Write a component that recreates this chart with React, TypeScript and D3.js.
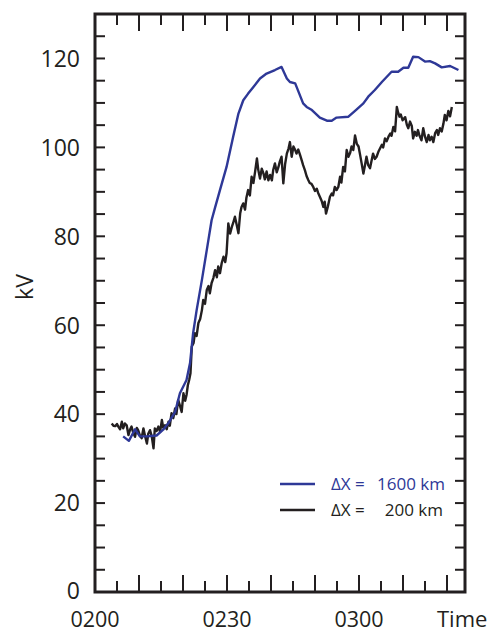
import React from "react";
import * as d3 from "d3";

// Minutes after 0200 UT and cross-polar-cap potential (kV)
const wideTime = [6.4, 7.7, 9.1, 10.2, 11.8, 14.0, 15.5, 16.7, 18.2, 19.3, 20.8, 21.6, 22.3, 23.1, 24.3, 25.4, 26.5, 27.3, 28.4, 29.9, 31.4, 32.6, 33.7, 34.8, 36.0, 37.5, 39.0, 40.9, 42.4, 43.6, 44.3, 45.5, 47.3, 48.1, 49.3, 51.1, 52.7, 53.8, 54.9, 57.6, 59.1, 61.0, 62.1, 63.6, 65.2, 67.4, 68.9, 70.1, 71.2, 72.3, 73.5, 75.0, 76.1, 77.3, 78.8, 80.7, 82.6];
const wideKV = [35.0, 34.0, 36.6, 35.0, 35.0, 35.2, 36.5, 38.0, 40.5, 44.7, 47.7, 51.5, 58.2, 63.4, 70.2, 76.9, 83.6, 86.5, 90.4, 95.6, 102.4, 107.6, 110.6, 112.1, 113.6, 115.5, 116.6, 117.4, 118.1, 115.5, 114.7, 114.4, 109.9, 109.1, 108.4, 106.7, 106.0, 106.0, 106.7, 106.9, 108.2, 109.9, 111.4, 112.9, 114.7, 117.0, 117.0, 117.9, 117.9, 120.4, 120.3, 119.3, 119.4, 118.9, 118.0, 118.3, 117.4];

const narrowTime = [3.8, 4.2, 4.6, 5.0, 5.3, 5.7, 6.1, 6.4, 6.8, 7.2, 7.6, 8.0, 8.3, 8.7, 9.1, 9.5, 9.8, 10.2, 10.6, 11.0, 11.4, 11.8, 12.1, 12.5, 12.9, 13.3, 13.6, 14.0, 14.4, 14.8, 15.2, 15.5, 15.9, 16.3, 16.7, 17.0, 17.4, 17.8, 18.2, 18.5, 18.9, 19.3, 19.7, 20.1, 20.5, 20.8, 21.1, 21.4, 21.7, 22.0, 22.4, 22.7, 23.1, 23.5, 23.9, 24.3, 24.6, 25.0, 25.4, 25.8, 26.1, 26.5, 26.9, 27.3, 27.7, 28.0, 28.4, 28.8, 29.2, 29.6, 29.9, 30.3, 30.7, 31.1, 31.4, 31.8, 32.2, 32.6, 33.0, 33.3, 33.7, 34.1, 34.4, 34.8, 35.2, 35.6, 36.0, 36.4, 36.8, 37.1, 37.5, 37.9, 38.3, 38.6, 39.0, 39.4, 39.8, 40.2, 40.5, 40.9, 41.3, 41.7, 42.0, 42.4, 42.8, 43.2, 43.6, 44.0, 44.3, 44.7, 45.1, 45.5, 45.8, 46.2, 46.6, 47.0, 47.3, 47.7, 48.1, 48.5, 48.8, 49.2, 49.6, 50.0, 50.4, 50.7, 51.1, 51.5, 51.9, 52.2, 52.5, 52.9, 53.4, 53.8, 54.1, 54.5, 54.9, 55.3, 55.7, 56.0, 56.4, 56.8, 57.2, 57.6, 58.0, 58.3, 58.7, 59.1, 59.5, 59.9, 60.2, 60.6, 61.0, 61.4, 61.7, 62.1, 62.5, 62.9, 63.2, 63.6, 64.0, 64.4, 64.8, 65.2, 65.5, 65.9, 66.3, 66.7, 67.1, 67.4, 67.8, 68.2, 68.6, 68.9, 69.2, 69.5, 69.9, 70.5, 70.9, 71.2, 71.6, 72.0, 72.3, 72.7, 73.1, 73.4, 73.7, 74.2, 74.6, 75.0, 75.4, 75.8, 76.1, 76.5, 76.9, 77.3, 77.7, 78.0, 78.4, 78.8, 79.2, 79.5, 79.9, 80.3, 80.7, 81.1, 81.6, 82.0, 82.3, 82.6];
const narrowKV = [37.9, 37.4, 37.3, 37.8, 37.2, 36.6, 38.3, 36.8, 37.9, 37.5, 35.3, 36.6, 37.2, 35.8, 34.9, 36.9, 36.4, 35.2, 34.6, 36.8, 35.0, 33.4, 35.6, 36.4, 35.0, 32.3, 36.8, 36.2, 37.2, 36.0, 38.7, 37.0, 37.5, 36.6, 38.3, 37.4, 40.2, 39.1, 41.3, 40.0, 43.2, 41.9, 40.5, 44.7, 43.0, 44.3, 46.5, 47.7, 49.2, 55.2, 56.0, 58.2, 57.6, 60.5, 61.4, 63.4, 65.7, 64.8, 67.9, 68.8, 67.2, 69.5, 70.6, 72.4, 70.8, 73.2, 71.7, 74.0, 75.4, 74.2, 76.2, 82.9, 80.6, 82.1, 83.0, 84.4, 82.6, 80.7, 85.2, 86.6, 87.4, 86.0, 88.6, 90.4, 89.2, 93.4, 92.0, 94.6, 97.5, 95.0, 93.0, 95.2, 94.1, 92.8, 94.6, 92.6, 93.8, 92.6, 94.9, 96.4, 94.4, 95.6, 96.8, 97.9, 91.9, 96.2, 98.6, 99.8, 101.2, 97.9, 100.2, 99.4, 98.6, 99.5, 98.3, 97.0, 96.0, 94.9, 93.5, 92.6, 92.0, 91.8, 91.1, 90.2, 90.7, 89.8, 88.9, 88.0, 86.6, 87.8, 85.1, 86.6, 88.9, 89.6, 89.2, 91.1, 90.4, 91.1, 93.4, 92.1, 95.6, 94.6, 99.4, 97.9, 98.8, 100.2, 99.4, 102.7, 100.8, 100.2, 98.6, 96.4, 94.1, 96.2, 97.9, 96.0, 95.3, 97.2, 98.6, 97.4, 97.9, 99.0, 99.8, 100.6, 100.0, 102.0, 101.4, 102.4, 103.1, 102.6, 104.6, 103.6, 109.1, 107.8, 106.9, 107.4, 106.1, 106.8, 105.0, 104.3, 105.8, 104.8, 102.0, 103.5, 102.6, 103.9, 102.8, 101.6, 104.3, 102.4, 101.2, 102.8, 101.6, 102.4, 101.2, 103.2, 103.9, 102.8, 104.3, 103.6, 105.4, 107.3, 106.1, 108.2, 107.0, 109.1];

const yTicks = d3.range(0, 131, 5);
const yLabels = [0, 20, 40, 60, 80, 100, 120];
const xTicks = d3.range(5, 81, 5);
const xLabels = [
  { t: 0, label: "0200" },
  { t: 30, label: "0230" },
  { t: 60, label: "0300" },
];

const legendItems = [
  { name: "\u0394X =", value: "1600 km", color: "#2e3897", end: 445 },
  { name: "\u0394X =", value: "200 km", color: "#231f20", end: 443 },
];

const W = 492;
const H = 633;
const left = 95;
const right = 465;
const top = 14;
const bottom = 592;
const ink = "#231f20";
const font = "'Open Sans', 'Noto Sans', sans-serif";

export default function App() {
  const x = d3.scaleLinear().domain([0, 370 / 4.4]).range([left, right]);
  const y = d3.scaleLinear().domain([0, 130]).range([bottom, top]);

  const line = d3
    .line<[number, number]>()
    .x((d) => x(d[0]))
    .y((d) => y(d[1]))
    .curve(d3.curveLinear);

  const wide = line(wideTime.map((t, i) => [t, wideKV[i]] as [number, number]));
  const narrow = line(narrowTime.map((t, i) => [t, narrowKV[i]] as [number, number]));

  return (
    <div style={{ position: "absolute", left: 0, top: 0 }}>
      <svg width={W} height={H} style={{ display: "block", background: "#fff" }} fontFamily={font}>
        {/* data curves */}
        <path d={narrow ?? ""} fill="none" stroke={ink} strokeWidth={2.4} strokeLinejoin="round" />
        <path d={wide ?? ""} fill="none" stroke={legendItems[0].color} strokeWidth={2.4} strokeLinejoin="round" />

        {/* y ticks on both sides, pointing inward */}
        {yTicks.map((v) => (
          <g key={"y" + v}>
            <line x1={left} x2={left + 10} y1={y(v)} y2={y(v)} stroke={ink} strokeWidth={2} />
            <line x1={right} x2={right - 10} y1={y(v)} y2={y(v)} stroke={ink} strokeWidth={2} />
          </g>
        ))}
        {/* x ticks on top and bottom, longer every 10 minutes */}
        {xTicks.map((t) => {
          const len = t % 10 === 0 ? 17 : 11;
          return (
            <g key={"x" + t}>
              <line x1={x(t)} x2={x(t)} y1={bottom} y2={bottom - len} stroke={ink} strokeWidth={2} />
              <line x1={x(t)} x2={x(t)} y1={top} y2={top + len} stroke={ink} strokeWidth={2} />
            </g>
          );
        })}
        <rect x={left} y={top} width={right - left} height={bottom - top} fill="none" stroke={ink} strokeWidth={3} />

        {/* y tick labels */}
        {yLabels.map((v) => (
          <text key={"yl" + v} x={80} y={y(v)} dy={v === 0 ? "0.3em" : "0.36em"} textAnchor="end" fontSize={23} fill={ink}>
            {v}
          </text>
        ))}
        <text transform={`translate(33,287) rotate(-90)`} textAnchor="middle" fontSize={23} fill={ink}>
          kV
        </text>

        {/* x tick labels */}
        {xLabels.map((d) => (
          <text key={d.label} x={x(d.t)} y={627} textAnchor="middle" fontSize={21.5} fill={ink}>
            {d.label}
          </text>
        ))}
        <text x={437} y={627} fontSize={22} fill={ink}>
          Time
        </text>

        {/* legend */}
        {legendItems.map((d, i) => {
          const ly = 484 + i * 26;
          return (
            <g key={d.value}>
              <line x1={280} x2={315} y1={ly} y2={ly} stroke={d.color} strokeWidth={2.4} />
              <text x={331} y={ly} dy="0.35em" fontSize={17} fill={d.color}>
                {d.name}
              </text>
              <text x={d.end} y={ly} dy="0.35em" textAnchor="end" fontSize={17} fill={d.color}>
                {d.value}
              </text>
            </g>
          );
        })}
      </svg>
    </div>
  );
}
